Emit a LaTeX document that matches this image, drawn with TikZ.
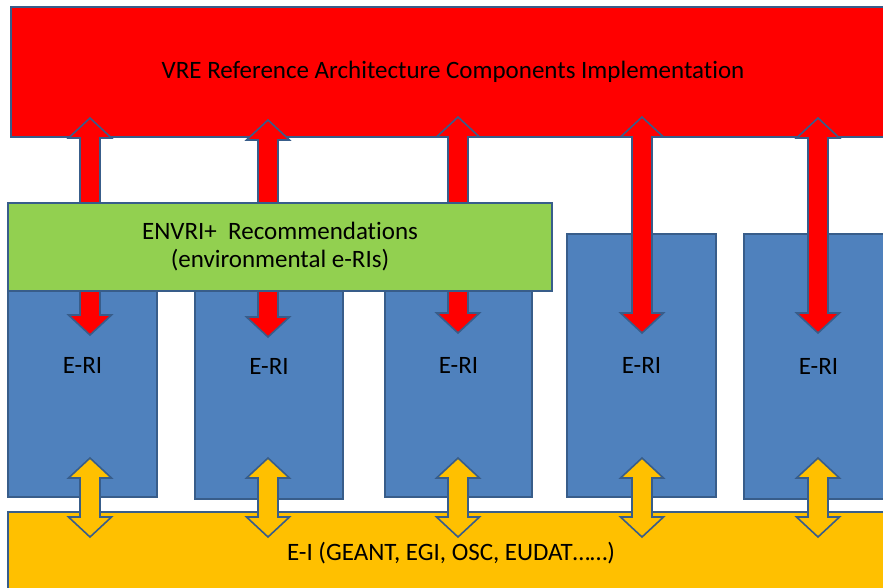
\documentclass[tikz,border=0pt]{standalone}
\usepackage{fontspec}
\setmainfont{Carlito}[Ligatures=NoCommon]
\definecolor{vrered}{HTML}{FF0000}
\definecolor{envgreen}{HTML}{92D050}
\definecolor{eriblue}{HTML}{4F81BD}
\definecolor{eiyellow}{HTML}{FFC000}
\definecolor{edgeblue}{HTML}{385D8A}
\tikzset{
  box/.style={draw=edgeblue, line width=1.6pt, inner sep=0pt, align=center,
    font=\fontsize{25}{27}\selectfont},
  ribbon/.style={draw=edgeblue, line width=1.6pt, line join=miter}
}
% vertical double arrow: centre x, top tip y, bottom tip y, fill colour
\newcommand{\vdarrow}[4]{%
  \draw[ribbon, fill=#4] (#1,#2) -- ++(21.5,20) -- ++(-11.5,0) -- (#1+10,#3-20)
    -- ++(11.5,0) -- (#1,#3) -- ++(-21.5,-20) -- ++(11.5,0) -- (#1-10,#2+20)
    -- ++(-11.5,0) -- cycle;}
\begin{document}
\begin{tikzpicture}[x=1pt,y=-1pt]
  \useasboundingbox (0,0) rectangle (883,587);
  \node[box, fill=vrered, minimum width=884, minimum height=130] (vre) at (453,72)
    {VRE Reference Architecture Components Implementation};
  % E-RI columns
  \node[box, fill=eriblue, minimum width=149, minimum height=263] (eri1) at (82.5,365.5) {E-RI};
  \node[box, fill=eriblue, minimum width=148, minimum height=265] (eri2) at (269,366.5) {E-RI};
  \node[box, fill=eriblue, minimum width=147, minimum height=263] (eri3) at (458.5,365.5) {E-RI};
  \node[box, fill=eriblue, minimum width=149, minimum height=263] (eri4) at (641.5,365.5) {E-RI};
  \node[box, fill=eriblue, minimum width=149, minimum height=265] (eri5) at (818.5,366.5) {E-RI};
  % red arrows between VRE and the E-RIs
  \foreach \ax/\at/\ab in {90/118/335, 268/120/337, 458/117/333, 642/117/333, 818/118/333}
    \vdarrow{\ax}{\at}{\ab}{vrered};
  \node[box, fill=envgreen, minimum width=544, minimum height=88] (envri) at (280,247)
    {ENVRI+~ Recommendations\\[1pt](environmental e-RIs)};
  \node[box, fill=eiyellow, minimum width=886, minimum height=82] (ei) at (451,553)
    {E-I (GEANT, EGI, OSC, EUDAT\dots\dots)};
  % yellow arrows between E-RIs and E-I
  \foreach \ax in {90, 268, 458, 642, 818}
    \vdarrow{\ax}{458}{537}{eiyellow};
\end{tikzpicture}
\end{document}
